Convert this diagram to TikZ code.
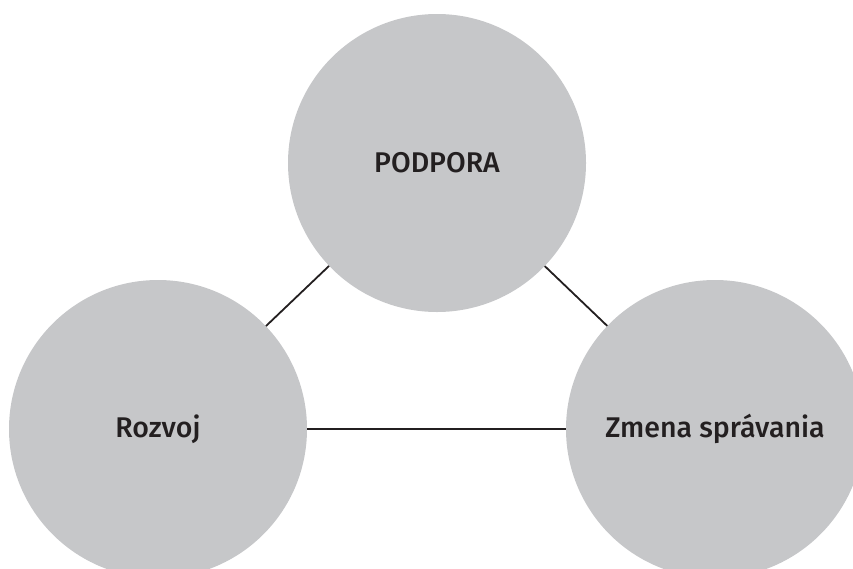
\documentclass[tikz,border=0pt]{standalone}
\usepackage{fontspec}
\setmainfont{Fira Sans Medium}
\definecolor{circgrey}{HTML}{C6C7C9}
\definecolor{inkdark}{HTML}{231F20}
\tikzset{
  bubble/.style={circle, fill=circgrey, minimum size=298pt, inner sep=0pt,
    text=inkdark, font=\fontsize{28.5}{34}\selectfont},
  link/.style={draw=inkdark, line width=1.8pt}
}
\begin{document}
\begin{tikzpicture}[x=1pt,y=-1pt]
\useasboundingbox (0,0) rectangle (853,568);
\clip (0,0) rectangle (853,568);
\node[bubble] (T) at (437,163) {PODPORA};
\node[bubble] (L) at (158,429) {Rozvoj};
\node[bubble] (R) at (715,429) {Zmena správania};
\draw[link] (L) -- (T);
\draw[link] (T) -- (R);
\draw[link] (L) -- (R);
\end{tikzpicture}
\end{document}
